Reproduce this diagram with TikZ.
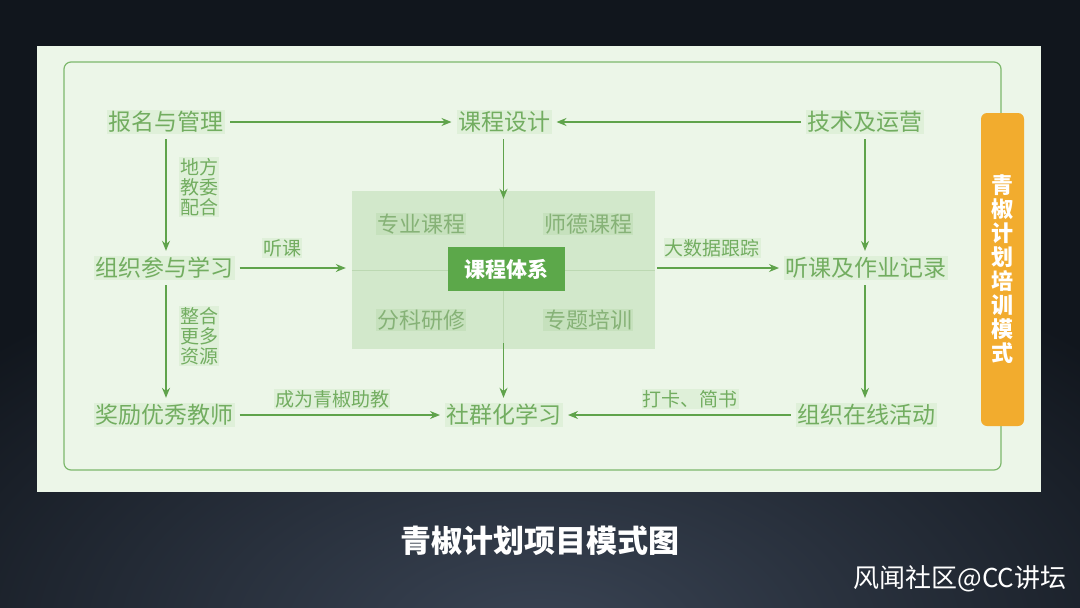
\documentclass[tikz,border=0pt]{standalone}
\usepackage{fontspec}
\setmainfont{Noto Sans CJK SC}
\newfontfamily\cjk{Noto Sans CJK SC}
\usetikzlibrary{arrows.meta,calc}
\definecolor{bgtop}{HTML}{11161D}
\definecolor{bgmid}{HTML}{3A4454}
\definecolor{panel}{HTML}{ECF6E8}
\definecolor{frame}{HTML}{7DB86C}
\definecolor{txt}{HTML}{72AD60}
\definecolor{hl}{HTML}{DFF0D9}
\definecolor{arr}{HTML}{5FA34B}
\definecolor{boxc}{HTML}{D2E8CB}
\definecolor{divc}{HTML}{BCD8B2}
\definecolor{qtxt}{HTML}{86B277}
\definecolor{qhl}{HTML}{C6E1BD}
\definecolor{core}{HTML}{5CA84A}
\definecolor{orange}{HTML}{F2AC2E}
\tikzset{
  mainlbl/.style={font=\cjk\fontsize{23}{25}\selectfont, text=txt, fill=hl, inner sep=1.5pt, outer sep=5pt},
  arrlbl/.style={font=\cjk\fontsize{19}{20}\selectfont, text=txt, fill=hl, inner sep=1pt, align=center},
  quadlbl/.style={font=\cjk\fontsize{22}{24}\selectfont, text=qtxt, fill=qhl, inner sep=1pt},
  flow/.style={draw=arr, line width=1.3pt, -{Stealth[length=10pt,width=8pt]}},
}
\begin{document}
\begin{tikzpicture}[x=1pt,y=-1pt]
\useasboundingbox (0,0) rectangle (1080,608);
% background
\fill[bgtop] (0,0) rectangle (1080,608);
\begin{scope}
\clip (0,0) rectangle (1080,608);
\shade[inner color=bgmid, outer color=bgtop] (540,640) ellipse (760 and 420);
\end{scope}
% panel
\fill[panel] (37,46) rectangle (1041,492);
\draw[frame, line width=1.2pt, rounded corners=7pt] (64,62) rectangle (1001,470);
% orange bar
\node[fill=orange, rounded corners=6pt, minimum width=43, minimum height=313, inner sep=0pt] (bar) at (1002.5,269.5) {};
\node[font=\cjk\bfseries\fontsize{22}{24}\selectfont, text=white, align=center] (bartxt) at (bar.center) {青\\椒\\计\\划\\培\\训\\模\\式};
% center box
\node[fill=boxc, minimum width=303, minimum height=158, inner sep=0pt] (box) at (503.5,270) {};
\draw[divc, line width=1pt] (box.north) -- (box.south);
\draw[divc, line width=1pt] (box.west) -- (box.east);
\node[quadlbl] (q1) at (421,224) {专业课程};
\node[quadlbl] (q2) at (588,224) {师德课程};
\node[quadlbl] (q3) at (421,320) {分科研修};
\node[quadlbl] (q4) at (588,320) {专题培训};
\node[fill=core, minimum width=117, minimum height=44, text=white, font=\cjk\bfseries\fontsize{21}{24}\selectfont] (core) at (506.5,269) {课程体系};
% main nodes
\node[mainlbl] (reg) at (166,122) {报名与管理};
\node[mainlbl] (design) at (504,122) {课程设计};
\node[mainlbl] (tech) at (865,122) {技术及运营};
\node[mainlbl] (org) at (164,268) {组织参与学习};
\node[mainlbl] (rec) at (866,268) {听课及作业记录};
\node[mainlbl] (reward) at (164,415) {奖励优秀教师};
\node[mainlbl] (comm) at (504,415) {社群化学习};
\node[mainlbl] (act) at (866,415) {组织在线活动};
% arrow labels
\node[arrlbl] (l1) at (199,187) {地方\\教委\\配合};
\node[arrlbl] (l2) at (199,336) {整合\\更多\\资源};
\node[arrlbl] (l3) at (282,248) {听课};
\node[arrlbl] (l4) at (712,248) {大数据跟踪};
\node[arrlbl] (l5) at (332,399) {成为青椒助教};
\node[arrlbl] (l6) at (690,399) {打卡、简书};
% arrows
\draw[flow] (reg.east) -- (design.west);
\draw[flow] (tech.west) -- (design.east);
\draw[flow] (design.south -| box.north) -- ([yshift=-8pt]box.north);
\draw[flow] (reg.south -| 166,0) -- (166,0 |- org.north);
\draw[flow] (org.south -| 166,0) -- (166,0 |- reward.north);
\draw[flow] (org.east) -- ([xshift=-6pt]org.east -| box.west);
\draw[flow] ([xshift=2pt]box.east |- rec.west) -- (rec.west);
\draw[flow] (tech.south) -- (tech.south |- rec.north);
\draw[flow] (rec.south -| tech.south) -- (tech.south |- act.north);
\draw[flow] (act.west) -- (comm.east);
\draw[flow] (reward.east) -- (comm.west);
\draw[flow] ([yshift=6pt]box.south) -- (box.south |- comm.north);
% title and watermark
\node[font=\cjk\bfseries\fontsize{31}{34}\selectfont, text=white] (title) at (540,541) {青椒计划项目模式图};
\node[font=\cjk\fontsize{26}{28}\selectfont, text=white] (wm) at (960,579) {风闻社区@CC讲坛};
\end{tikzpicture}
\end{document}
